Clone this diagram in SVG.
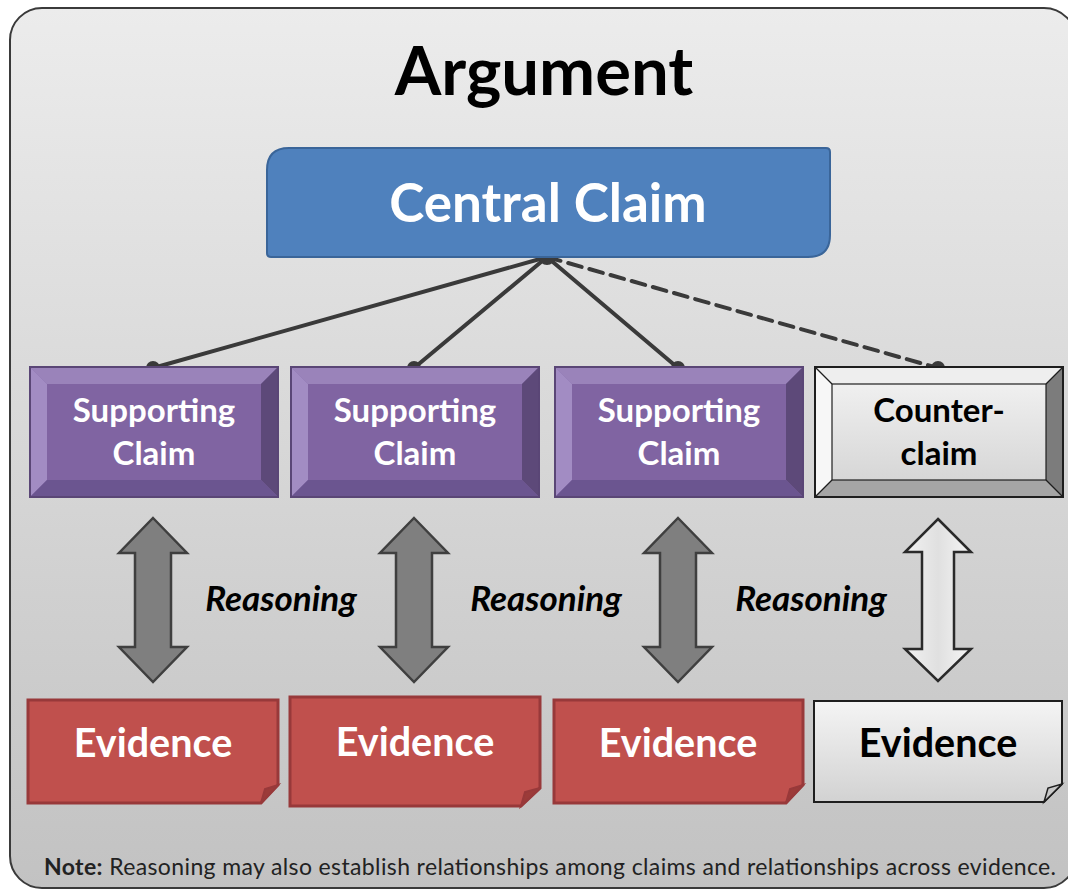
<svg xmlns="http://www.w3.org/2000/svg" width="1068" height="890" viewBox="0 0 1068 890">
<defs>
<linearGradient id="bg" x1="0" y1="0" x2="0" y2="1">
<stop offset="0" stop-color="#ececec"/>
<stop offset="1" stop-color="#c2c2c2"/>
</linearGradient>
<linearGradient id="gface" x1="0" y1="0" x2="0" y2="1">
<stop offset="0" stop-color="#f4f4f4"/>
<stop offset="1" stop-color="#d2d2d2"/>
</linearGradient>
<linearGradient id="garrow" x1="0" y1="0" x2="1" y2="0">
<stop offset="0" stop-color="#f2f2f2"/>
<stop offset="0.5" stop-color="#e0e0e0"/>
<stop offset="1" stop-color="#f6f6f6"/>
</linearGradient>
<style>
.t{font-family:Lato,"Open Sans","Liberation Sans",sans-serif;font-weight:bold;text-anchor:middle}
.w{fill:#ffffff}
.k{fill:#000000}
.conn{stroke:#3a3a3a;stroke-width:4;fill:none;stroke-linecap:round}
.dot{fill:#3a3a3a}
.pface{fill:#8064a2}
.ptop{fill:#9a83ba}
.pleft{fill:#a28cc3}
.pright{fill:#5d4979}
.pbot{fill:#6b5590}
.pout{fill:none;stroke:#5a4676;stroke-width:2}
.gout{fill:none;stroke:#1e1e1e;stroke-width:2}
.arr{fill:#7f7f7f;stroke:#3f3f3f;stroke-width:2.5;stroke-linejoin:miter}
.arrw{fill:url(#garrow);stroke:#2a2a2a;stroke-width:2.5}
.ev{fill:#c0504d;stroke:#98393a;stroke-width:3}
.evf{fill:#9c3b39;stroke:#98393a;stroke-width:2}
.evw{fill:url(#gface);stroke:#1e1e1e;stroke-width:2}
.evwf{fill:#c8c8c8;stroke:#1e1e1e;stroke-width:1.5}
.sc{font-size:33px}
.ev-t{font-size:39.5px}
.rs{font-family:Lato,"Open Sans","Liberation Sans",sans-serif;font-weight:bold;font-style:italic;font-size:35px;text-anchor:middle;fill:#000}
</style>
</defs>

<g id="frame">
<rect x="10" y="8" width="1066" height="880" rx="32" ry="32" fill="url(#bg)" stroke="#3a3a3a" stroke-width="2"/>
<text class="t k" x="544" y="95" font-size="67">Argument</text>
</g>

<g id="connectors">
<line class="conn" x1="547" y1="257" x2="153" y2="368"/>
<line class="conn" x1="547" y1="257" x2="414" y2="368"/>
<line class="conn" x1="547" y1="257" x2="678" y2="368"/>
<line class="conn" x1="547" y1="257" x2="938" y2="368" stroke-dasharray="14,8" stroke-linecap="butt"/>
<circle class="dot" cx="547" cy="257" r="8"/>
<circle class="dot" cx="153" cy="368" r="7"/>
<circle class="dot" cx="414" cy="368" r="7"/>
<circle class="dot" cx="678" cy="368" r="7"/>
<circle class="dot" cx="938" cy="368" r="7"/>
</g>

<g id="central-claim">
<path d="M289,148 H826 Q830,148 830,152 V235 Q830,257 808,257 H271 Q267,257 267,253 V170 Q267,148 289,148 Z" fill="#4f81bd" stroke="#3a6599" stroke-width="2"/>
<text class="t w" x="548" y="222" font-size="53">Central Claim</text>
</g>

<g id="supporting-claim-1" transform="translate(30,367)">
<rect class="pface" x="0" y="0" width="248" height="130"/>
<polygon class="ptop" points="0,0 248,0 231,17 17,17"/>
<polygon class="pleft" points="0,0 17,17 17,113 0,130"/>
<polygon class="pright" points="248,0 248,130 231,113 231,17"/>
<polygon class="pbot" points="0,130 17,113 231,113 248,130"/>
<rect class="pout" x="0" y="0" width="248" height="130"/>
<text class="t w sc" x="124" y="55">Supporting</text>
<text class="t w sc" x="124" y="98">Claim</text>
</g>
<g id="supporting-claim-2" transform="translate(291,367)">
<rect class="pface" x="0" y="0" width="248" height="130"/>
<polygon class="ptop" points="0,0 248,0 231,17 17,17"/>
<polygon class="pleft" points="0,0 17,17 17,113 0,130"/>
<polygon class="pright" points="248,0 248,130 231,113 231,17"/>
<polygon class="pbot" points="0,130 17,113 231,113 248,130"/>
<rect class="pout" x="0" y="0" width="248" height="130"/>
<text class="t w sc" x="124" y="55">Supporting</text>
<text class="t w sc" x="124" y="98">Claim</text>
</g>
<g id="supporting-claim-3" transform="translate(555,367)">
<rect class="pface" x="0" y="0" width="248" height="130"/>
<polygon class="ptop" points="0,0 248,0 231,17 17,17"/>
<polygon class="pleft" points="0,0 17,17 17,113 0,130"/>
<polygon class="pright" points="248,0 248,130 231,113 231,17"/>
<polygon class="pbot" points="0,130 17,113 231,113 248,130"/>
<rect class="pout" x="0" y="0" width="248" height="130"/>
<text class="t w sc" x="124" y="55">Supporting</text>
<text class="t w sc" x="124" y="98">Claim</text>
</g>
<g id="counterclaim" transform="translate(815,367)">
<rect fill="url(#gface)" x="0" y="0" width="248" height="130"/>
<polygon fill="#eeeeee" points="0,0 248,0 231,17 17,17"/>
<polygon fill="#f7f7f7" points="0,0 17,17 17,113 0,130"/>
<polygon fill="#7c7c7c" points="248,0 248,130 231,113 231,17"/>
<polygon fill="#a5a5a5" points="0,130 17,113 231,113 248,130"/>
<g stroke="#1e1e1e" stroke-width="1.2" fill="none">
<rect x="17" y="17" width="214" height="96"/>
<line x1="0" y1="0" x2="17" y2="17"/><line x1="248" y1="0" x2="231" y2="17"/>
<line x1="0" y1="130" x2="17" y2="113"/><line x1="248" y1="130" x2="231" y2="113"/>
</g>
<rect class="gout" x="0" y="0" width="248" height="130"/>
<text class="t k sc" x="124" y="55">Counter-</text>
<text class="t k sc" x="124" y="98">claim</text>
</g>

<g id="reasoning-1">
<path class="arr" d="M153,518 L187,553 L171,553 L171,647 L187,647 L153,682 L119,647 L135,647 L135,553 L119,553 Z"/>
<text class="rs" x="281" y="611">Reasoning</text>
</g>
<g id="reasoning-2">
<path class="arr" d="M414,518 L448,553 L432,553 L432,647 L448,647 L414,682 L380,647 L396,647 L396,553 L380,553 Z"/>
<text class="rs" x="546" y="611">Reasoning</text>
</g>
<g id="reasoning-3">
<path class="arr" d="M678,518 L712,553 L696,553 L696,647 L712,647 L678,682 L644,647 L660,647 L660,553 L644,553 Z"/>
<text class="rs" x="811" y="611">Reasoning</text>
</g>
<g id="reasoning-4">
<path class="arrw" d="M938,519 L971,552 L954,552 L954,649 L971,649 L938,681 L905,649 L922,649 L922,552 L905,552 Z"/>
</g>

<g id="evidence-1">
<path class="ev" d="M28,700 H278 V785 L261,803 H28 Z"/>
<path class="evf" d="M278,785 L261,803 L265,789 Z"/>
<text class="t w ev-t" x="153" y="757">Evidence</text>
</g>
<g id="evidence-2">
<path class="ev" d="M290,697 H540 V788 L521,806 H290 Z"/>
<path class="evf" d="M540,788 L521,806 L525,792 Z"/>
<text class="t w ev-t" x="415" y="756">Evidence</text>
</g>
<g id="evidence-3">
<path class="ev" d="M554,700 H803 V785 L786,803 H554 Z"/>
<path class="evf" d="M803,785 L786,803 L790,789 Z"/>
<text class="t w ev-t" x="678" y="757">Evidence</text>
</g>
<g id="evidence-4">
<path class="evw" d="M814,701 H1062 V784 L1044,802 H814 Z"/>
<path class="evwf" d="M1062,784 L1044,802 L1048,788 Z"/>
<text class="t k ev-t" x="938" y="757">Evidence</text>
</g>

<g id="note">
<text x="44" y="875" font-family="Lato,'Open Sans','Liberation Sans',sans-serif" font-size="23" textLength="1012" lengthAdjust="spacing" fill="#222"><tspan font-weight="bold">Note:</tspan> Reasoning may also establish relationships among claims and relationships across evidence.</text>
</g>
</svg>
